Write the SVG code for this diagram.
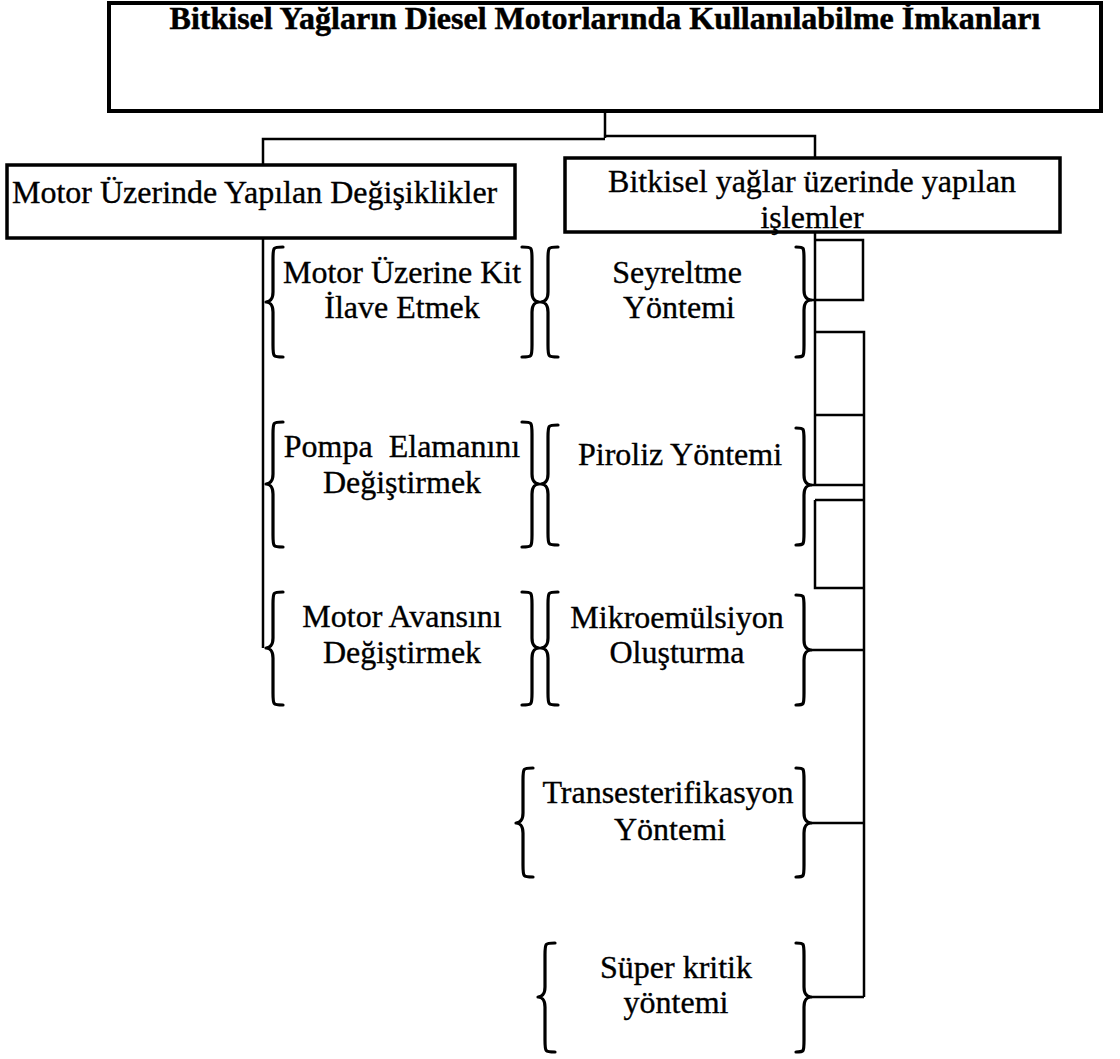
<svg xmlns="http://www.w3.org/2000/svg" width="1120" height="1059" viewBox="0 0 1120 1059">
  <style>
    .box { fill: #fff; stroke: #000; stroke-width: 3.5; }
    .wire { fill: none; stroke: #000; stroke-width: 2.5; stroke-linejoin: miter; }
    .brace { fill: none; stroke: #000; stroke-width: 3.2; stroke-linecap: round; stroke-linejoin: round; }
    .t { font-family: "Liberation Serif", "Times New Roman", serif; font-size: 32px; fill: #000; stroke: #000; stroke-width: 0.35; text-anchor: middle; white-space: pre; }
    .tl { text-anchor: start; }
    .title { font-weight: bold; stroke-width: 0.5; }
  </style>
  <rect width="1120" height="1059" fill="#fff"/>

  <!-- connectors -->
  <g id="connectors" class="wire">
    <path d="M605 111 V138 M263 165 V139 H605 M605 136 H815 V158"/>
    <path d="M263 238 V648"/>
    <path d="M815 232 V485"/>
    <path d="M815 240 H863 V300 H811"/>
    <path d="M815 332 H864 V997"/>
    <path d="M815 415 H864"/>
    <path d="M811 485 H864"/>
    <path d="M815 500 H864 M815 500 V588 H864"/>
    <path d="M811 650 H864 M811 823 H864 M811 997 H864"/>
  </g>

  <g id="root">
    <rect class="box" x="109" y="3" width="992" height="108" style="stroke-width:4"/>
    <text class="t title" x="605" y="29">Bitkisel Yağların Diesel Motorlarında Kullanılabilme İmkanları</text>
  </g>

  <g id="engine-changes">
    <rect class="box" x="7" y="165" width="508" height="73"/>
    <text class="t tl" x="12" y="203">Motor Üzerinde Yapılan Değişiklikler</text>
  </g>

  <g id="oil-processes">
    <rect class="box" x="565" y="158" width="495" height="74"/>
    <text class="t" x="812" y="192">Bitkisel yağlar üzerinde yapılan</text>
    <text class="t" x="812" y="228">işlemler</text>
  </g>

  <!-- engine side items -->
  <g id="kit">
    <path class="brace" d="M283,247 C273,247 273,247 273,259 V292 C273,300 269,302 266,302 C269,302 273,304 273,312 V345 C273,357 273,357 283,357"/>
    <path class="brace" d="M522,247 C532,247 532,247 532,259 V292 C532,300 536,302 539,302 C536,302 532,304 532,312 V345 C532,357 532,357 522,357"/>
    <text class="t" x="402" y="283">Motor Üzerine Kit</text>
    <text class="t" x="402" y="318">İlave Etmek</text>
  </g>

  <g id="pump">
    <path class="brace" d="M283,422 C273,422 273,422 273,434 V474 C273,482 269,484 266,484 C269,484 273,486 273,494 V535 C273,547 273,547 283,547"/>
    <path class="brace" d="M522,422 C532,422 532,422 532,434 V474 C532,482 536,484 539,484 C536,484 532,486 532,494 V535 C532,547 532,547 522,547"/>
    <text class="t" x="402" y="457">Pompa  Elamanını</text>
    <text class="t" x="402" y="493">Değiştirmek</text>
  </g>

  <g id="advance">
    <path class="brace" d="M283,592 C273,592 273,592 273,604 V638 C273,646 269,648 266,648 C269,648 273,650 273,658 V693 C273,705 273,705 283,705"/>
    <path class="brace" d="M522,592 C532,592 532,592 532,604 V638 C532,646 536,648 539,648 C536,648 532,650 532,658 V693 C532,705 532,705 522,705"/>
    <text class="t" x="402" y="627">Motor Avansını</text>
    <text class="t" x="402" y="663">Değiştirmek</text>
  </g>

  <!-- oil side items -->
  <g id="dilution">
    <path class="brace" d="M558,247 C548,247 548,247 548,259 V292 C548,300 544,302 541,302 C544,302 548,304 548,312 V345 C548,357 548,357 558,357"/>
    <path class="brace" d="M796,247 C804,247 804,247 804,259 V290 C804,298 808,300 811,300 C808,300 804,302 804,310 V345 C804,357 804,357 796,357"/>
    <text class="t" x="677" y="283">Seyreltme</text>
    <text class="t" x="679" y="318">Yöntemi</text>
  </g>

  <g id="pyrolysis">
    <path class="brace" d="M558,425 C548,425 548,425 548,437 V474 C548,482 544,484 541,484 C544,484 548,486 548,494 V533 C548,545 548,545 558,545"/>
    <path class="brace" d="M796,428 C804,428 804,428 804,440 V475 C804,483 808,485 811,485 C808,485 804,487 804,495 V533 C804,545 804,545 796,545"/>
    <text class="t" x="680" y="465">Piroliz Yöntemi</text>
  </g>

  <g id="microemulsion">
    <path class="brace" d="M558,592 C548,592 548,592 548,604 V638 C548,646 544,648 541,648 C544,648 548,650 548,658 V693 C548,705 548,705 558,705"/>
    <path class="brace" d="M796,595 C804,595 804,595 804,607 V640 C804,648 808,650 811,650 C808,650 804,652 804,660 V693 C804,705 804,705 796,705"/>
    <text class="t" x="677" y="628">Mikroemülsiyon</text>
    <text class="t" x="677" y="663">Oluşturma</text>
  </g>

  <g id="transesterification">
    <path class="brace" d="M533,768 C523,768 523,768 523,780 V813 C523,821 519,823 516,823 C519,823 523,825 523,833 V865 C523,877 523,877 533,877"/>
    <path class="brace" d="M796,768 C804,768 804,768 804,780 V813 C804,821 808,823 811,823 C808,823 804,825 804,833 V865 C804,877 804,877 796,877"/>
    <text class="t" x="668" y="803">Transesterifikasyon</text>
    <text class="t" x="670" y="840">Yöntemi</text>
  </g>

  <g id="supercritical">
    <path class="brace" d="M555,943 C545,943 545,943 545,955 V987 C545,995 541,997 538,997 C541,997 545,999 545,1007 V1040 C545,1052 545,1052 555,1052"/>
    <path class="brace" d="M796,943 C804,943 804,943 804,955 V987 C804,995 808,997 811,997 C808,997 804,999 804,1007 V1040 C804,1052 804,1052 796,1052"/>
    <text class="t" x="676" y="978">Süper kritik</text>
    <text class="t" x="676" y="1013">yöntemi</text>
  </g>
</svg>
